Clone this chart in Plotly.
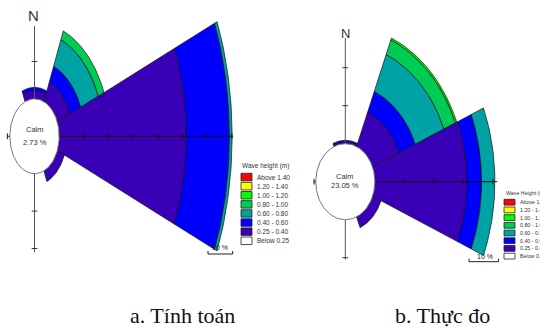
import numpy as np
import plotly.graph_objects as go

W, H = 540, 329

# ---------------- data ----------------
directions = ["N", "NE", "E", "SE", "S", "SW", "W", "NW"]
bearings = [0, 45, 90, 135, 180, 225, 270, 315]

band_labels = ["Above 1.40", "1.20 - 1.40", "1.00 - 1.20", "0.80 - 1.00",
               "0.60 - 0.80", "0.40 - 0.60", "0.25 - 0.40", "Below 0.25"]
band_colors = ["#ff0000", "#ffff00", "#00ff00", "#00cc55",
               "#00a3a3", "#0000ff", "#3a00b8", "#ffffff"]

# a. Tinh toan (computed) - percent per direction
calc_calm = 2.73
calc_below_025 = [0, 0, 0, 0, 0, 0, 0, 0]
calc_025_040 = [2.2, 5.7, 51.5, 3.1, 0, 0, 0, 0]
calc_040_060 = [0.9, 4.6, 17.5, 0, 0, 0, 0, 0]
calc_060_080 = [0, 7.7, 1.1, 0, 0, 0, 0, 0]
calc_080_100 = [0, 2.5, 0, 0, 0, 0, 0, 0]
calc_100_120 = [0, 0, 0, 0, 0, 0, 0, 0]
calc_120_140 = [0, 0, 0, 0, 0, 0, 0, 0]
calc_above_140 = [0, 0, 0, 0, 0, 0, 0, 0]

# b. Thuc do (measured)
meas_calm = 23.05
meas_below_025 = [0, 0, 0, 0, 0, 0, 0, 0]
meas_025_040 = [0.6, 9.7, 31.2, 3.1, 0, 0, 0, 0]
meas_040_060 = [0.3, 6.0, 5.0, 0, 0, 0, 0, 0]
meas_060_080 = [0, 10.5, 4.5, 0, 0, 0, 0, 0]
meas_080_100 = [0, 4.2, 0, 0, 0, 0, 0, 0]
meas_100_120 = [0, 0.5, 0, 0, 0, 0, 0, 0]
meas_120_140 = [0, 0, 0, 0, 0, 0, 0, 0]
meas_above_140 = [0, 0, 0, 0, 0, 0, 0, 0]

calc_bands = [calc_below_025, calc_025_040, calc_040_060, calc_060_080,
              calc_080_100, calc_100_120, calc_120_140, calc_above_140]
meas_bands = [meas_below_025, meas_025_040, meas_040_060, meas_060_080,
              meas_080_100, meas_100_120, meas_120_140, meas_above_140]
stack_colors = band_colors[::-1]   # inner -> outer

legend_title_a = "Wave height (m)"
legend_title_b = "Wave Height (m)"
caption_a = "a. Tính toán"
caption_b = "b. Thực đo"
scale_label = "10 %"

# ---------------- layout geometry ----------------
CALM_R = 10.0
HALF = 22.5
roses = [
    dict(bands=calc_bands, calm=calc_calm, cx=34.5, cy=136.3, sx=2.467, sy=3.74,
         ax="x", ay="y", ext=dict(N=29.5, S=31, W=11, E=80.5),
         tE=[20, 30, 40, 50, 60, 70, 80], tN=[20], tS=[20, 30],
         nlab=(33.3, 15.8, 15), calm_y=(129.5, 142.5),
         bar=(208, 254), barlab=(220, 247)),
    dict(bands=meas_bands, calm=meas_calm, cx=345.3, cy=181.7, sx=2.95, sy=3.8,
         ax="x2", ay="y2", ext=dict(N=37.8, S=20.5, W=10.6, E=51.5),
         tE=[20, 30, 40, 50], tN=[20, 30], tS=[20],
         nlab=(345.3, 33.8, 13), calm_y=(176.7, 185.3),
         bar=(469, 261.7), barlab=(485, 256)),
]

fig = go.Figure()
annotations = []
shapes = []


def px2paper(x, y):
    return x / W, 1 - y / H


def wedge(r0, r1, center):
    th = np.radians(np.linspace(center - HALF, center + HALF, 40))
    xo, yo = r1 * np.sin(th), r1 * np.cos(th)
    xi, yi = r0 * np.sin(th[::-1]), r0 * np.cos(th[::-1])
    xs = np.concatenate([xo, xi, xo[:1]])
    ys = np.concatenate([yo, yi, yo[:1]])
    return xs, ys


for R in roses:
    ax, ay = R["ax"], R["ay"]
    # sectors
    for di, b in enumerate(bearings):
        r = CALM_R
        for bi, band in enumerate(R["bands"]):
            v = band[di]
            if v <= 0:
                continue
            xs, ys = wedge(r, r + v, b)
            fig.add_trace(go.Scatter(x=xs, y=ys, mode="lines", fill="toself",
                                     fillcolor=stack_colors[bi],
                                     line=dict(color="#111111", width=0.7),
                                     xaxis=ax, yaxis=ay, hoverinfo="skip",
                                     showlegend=False))
            r += v
    e = R["ext"]
    # axis lines
    fig.add_trace(go.Scatter(x=[0, 0], y=[-e["S"], e["N"]], mode="lines",
                             line=dict(color="#555555", width=1),
                             xaxis=ax, yaxis=ay, hoverinfo="skip", showlegend=False))
    fig.add_trace(go.Scatter(x=[-e["W"], e["E"]], y=[0, 0], mode="lines",
                             line=dict(color="#111111", width=1),
                             xaxis=ax, yaxis=ay, hoverinfo="skip", showlegend=False))
    # calm circle
    th = np.radians(np.linspace(0, 360, 120))
    fig.add_trace(go.Scatter(x=CALM_R * np.sin(th), y=CALM_R * np.cos(th),
                             mode="lines", fill="toself", fillcolor="white",
                             line=dict(color="#777777", width=1),
                             xaxis=ax, yaxis=ay, hoverinfo="skip", showlegend=False))
    # ticks
    fig.add_trace(go.Scatter(x=R["tE"] + [-e["W"]], y=[0] * (len(R["tE"]) + 1),
                             mode="markers",
                             marker=dict(symbol="line-ns", size=4,
                                         line=dict(color="#111111", width=1)),
                             xaxis=ax, yaxis=ay, hoverinfo="skip", showlegend=False))
    fig.add_trace(go.Scatter(x=[0] * (len(R["tN"]) + len(R["tS"])),
                             y=R["tN"] + [-t for t in R["tS"]],
                             mode="markers",
                             marker=dict(symbol="line-ew", size=4,
                                         line=dict(color="#333333", width=1)),
                             xaxis=ax, yaxis=ay, hoverinfo="skip", showlegend=False))
    # 10 % scale bar (10 units long)
    bx = (R["bar"][0] - R["cx"]) / R["sx"]
    by = (R["cy"] - R["bar"][1]) / R["sy"]
    tk = 3 / R["sy"]
    fig.add_trace(go.Scatter(x=[bx, bx, bx + 10, bx + 10], y=[by + tk, by, by, by + tk],
                             mode="lines", line=dict(color="#222222", width=1),
                             xaxis=ax, yaxis=ay, hoverinfo="skip", showlegend=False))
    px, py = px2paper(*R["barlab"])
    annotations.append(dict(x=px, y=py, xref="paper", yref="paper", text=scale_label,
                            showarrow=False, xanchor="center", yanchor="middle",
                            font=dict(family="Liberation Sans", size=7, color="#222222")))
    # N label
    nx, ny, ns = R["nlab"]
    px, py = px2paper(nx, ny)
    annotations.append(dict(x=px, y=py, xref="paper", yref="paper", text="N",
                            showarrow=False, xanchor="center", yanchor="middle",
                            font=dict(family="Liberation Sans", size=ns, color="#333333")))
    # Calm text
    for txt, yy in zip(["Calm", f"{R['calm']:.2f} %"], R["calm_y"]):
        px, py = px2paper(R["cx"], yy)
        annotations.append(dict(x=px, y=py, xref="paper", yref="paper", text=txt,
                                showarrow=False, xanchor="center", yanchor="middle",
                                font=dict(family="Liberation Sans", size=7.5,
                                          color="#333333")))

# ---------------- legends ----------------
legends = [
    dict(title=legend_title_a, tx=240, ty=166, bx0=241, bw=11, top=173.3, step=9.1,
         bh=7.5, lx=255, fs=6.5),
    dict(title=legend_title_b, tx=504, ty=193.3, bx0=504, bw=11, top=199.3, step=7.7,
         bh=5.8, lx=518, fs=5.3),
]
for L in legends:
    px, py = px2paper(L["tx"], L["ty"])
    annotations.append(dict(x=px, y=py, xref="paper", yref="paper", text=L["title"],
                            showarrow=False, xanchor="left", yanchor="middle",
                            font=dict(family="Liberation Sans", size=L["fs"],
                                      color="#333333")))
    for i, (lab, col) in enumerate(zip(band_labels, band_colors)):
        y0 = L["top"] + i * L["step"]
        x0p, y0p = px2paper(L["bx0"], y0)
        x1p, y1p = px2paper(L["bx0"] + L["bw"], y0 + L["bh"])
        shapes.append(dict(type="rect", xref="paper", yref="paper",
                           x0=x0p, x1=x1p, y0=y1p, y1=y0p, fillcolor=col,
                           line=dict(color="#222222", width=0.8)))
        lxp, lyp = px2paper(L["lx"], y0 + L["bh"] / 2)
        annotations.append(dict(x=lxp, y=lyp, xref="paper", yref="paper", text=lab,
                                showarrow=False, xanchor="left", yanchor="middle",
                                font=dict(family="Liberation Sans", size=L["fs"],
                                          color="#333333")))

# ---------------- captions ----------------
for txt, cxp in [(caption_a, 182), (caption_b, 442)]:
    px, py = px2paper(cxp, 315)
    annotations.append(dict(x=px, y=py, xref="paper", yref="paper", text=txt,
                            showarrow=False, xanchor="center", yanchor="middle",
                            font=dict(family="Liberation Serif", size=22, color="#111111")))

# ---------------- axes ----------------
def axis_ranges(R):
    xr = [(0 - R["cx"]) / R["sx"], (W - R["cx"]) / R["sx"]]
    yr = [(R["cy"] - H) / R["sy"], R["cy"] / R["sy"]]
    return xr, yr

xr1, yr1 = axis_ranges(roses[0])
xr2, yr2 = axis_ranges(roses[1])
hidden = dict(visible=False, showgrid=False, zeroline=False, fixedrange=True)

fig.update_layout(
    width=W, height=H, autosize=False,
    margin=dict(l=0, r=0, t=0, b=0, pad=0),
    paper_bgcolor="white", plot_bgcolor="rgba(0,0,0,0)",
    xaxis=dict(range=xr1, domain=[0, 1], **hidden),
    yaxis=dict(range=yr1, domain=[0, 1], **hidden),
    xaxis2=dict(range=xr2, domain=[0, 1], overlaying="x", anchor="y2", **hidden),
    yaxis2=dict(range=yr2, domain=[0, 1], overlaying="y", anchor="x2", **hidden),
    annotations=annotations, shapes=shapes, showlegend=False,
)

fig.write_html("out.html", config={"displayModeBar": False},
               post_script="document.body.style.margin='0';document.body.style.overflow='hidden';")
